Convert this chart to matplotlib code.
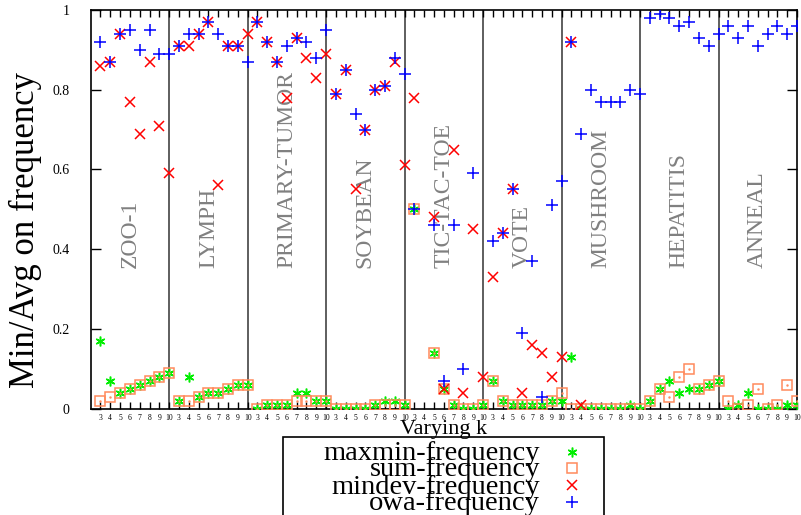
import numpy as np
import matplotlib
matplotlib.use("Agg")
from matplotlib import pyplot as plt
from matplotlib.lines import Line2D
from matplotlib.patches import Rectangle

nan = np.nan
datasets = ["ZOO-1", "LYMPH", "PRIMARY-TUMOR", "SOYBEAN", "TIC-TAC-TOE",
            "VOTE", "MUSHROOM", "HEPATITIS", "ANNEAL"]
ks = [3, 4, 5, 6, 7, 8, 9, 10]

# one row of 8 values (k=3..10) per dataset
maxmin = [0.17, 0.07, 0.04, 0.05, 0.06, 0.07, 0.08, 0.09,
          0.02, 0.08, 0.03, 0.04, 0.04, 0.05, 0.06, 0.06,
          0.00, 0.01, 0.01, 0.01, 0.04, 0.04, 0.02, 0.02,
          0.00, 0.00, 0.00, 0.00, 0.01, 0.02, 0.02, 0.01,
          0.50, nan, 0.14, 0.05, 0.01, 0.00, 0.00, 0.01,
          0.07, 0.02, 0.01, 0.01, 0.01, 0.01, 0.02, 0.02,
          0.13, 0.00, 0.00, 0.00, 0.00, 0.00, 0.01, 0.00,
          0.02, 0.05, 0.07, 0.04, 0.05, 0.05, 0.06, 0.07,
          0.00, 0.01, 0.04, 0.00, 0.00, 0.00, 0.01, 0.01]
sum_f = [0.02, 0.03, 0.04, 0.05, 0.06, 0.07, 0.08, 0.09,
         0.02, 0.02, 0.03, 0.04, 0.04, 0.05, 0.06, 0.06,
         0.00, 0.01, 0.01, 0.01, 0.02, 0.02, 0.02, 0.02,
         0.00, 0.00, 0.00, 0.00, 0.01, 0.01, 0.01, 0.01,
         0.50, nan, 0.14, 0.05, 0.01, 0.00, 0.00, 0.01,
         0.07, 0.02, 0.01, 0.01, 0.01, 0.01, 0.02, 0.04,
         0.00, 0.00, 0.00, 0.00, 0.00, 0.00, 0.00, 0.00,
         0.02, 0.05, 0.03, 0.08, 0.10, 0.05, 0.06, 0.07,
         0.02, 0.00, 0.01, 0.05, 0.00, 0.01, 0.06, 0.02]
mindev = [0.86, 0.87, 0.94, 0.77, 0.69, 0.87, 0.71, 0.59,
          0.91, 0.91, 0.94, 0.97, 0.56, 0.91, 0.91, 0.94,
          0.97, 0.92, 0.87, 0.78, 0.93, 0.88, 0.83, 0.89,
          0.79, 0.85, 0.55, 0.70, 0.80, 0.81, 0.87, 0.61,
          0.78, nan, 0.48, 0.05, 0.65, 0.04, 0.45, 0.08,
          0.33, 0.44, 0.55, 0.04, 0.16, 0.14, 0.08, 0.13,
          0.92, 0.01, nan, nan, nan, nan, nan, nan,
          nan, nan, nan, nan, nan, nan, nan, nan,
          nan, nan, nan, nan, nan, nan, nan, nan]
owa = [0.92, 0.87, 0.94, 0.95, 0.90, 0.95, 0.89, 0.89,
       0.91, 0.94, 0.94, 0.97, 0.94, 0.91, 0.91, 0.87,
       0.97, 0.92, 0.87, 0.91, 0.93, 0.92, 0.88, 0.95,
       0.79, 0.85, 0.74, 0.70, 0.80, 0.81, 0.88, 0.84,
       0.50, nan, 0.46, 0.07, 0.46, 0.10, 0.59, nan,
       0.42, 0.44, 0.55, 0.19, 0.37, 0.03, 0.51, 0.57,
       0.92, 0.69, 0.80, 0.77, 0.77, 0.77, 0.80, 0.79,
       0.98, 0.99, 0.98, 0.96, 0.97, 0.93, 0.91, 0.94,
       0.96, 0.93, 0.96, 0.91, 0.94, 0.96, 0.94, 0.96]

serif = "Liberation Serif"
plt.rcParams["font.family"] = serif

fig = plt.figure(figsize=(8.01, 5.15), dpi=100)
ax = fig.add_axes([0.1132, 0.2064, 0.8818, 0.7742])

x = np.arange(len(datasets) * len(ks))
n = len(ks)

# group separators and names
for g, name in enumerate(datasets):
    if g < len(datasets) - 1:
        ax.axvline(g * n + n - 1, color="#333333", lw=1.1, zorder=1)
    ax.text(g * n + 3, 0.353, name, rotation=90, ha="center", va="bottom",
            color="#808080", fontsize=17, zorder=1)

ax.plot(x, maxmin, ls="none", marker=(6, 2, 0), ms=7, mew=1.1, color="#00ee00", zorder=3)
ax.plot(x, sum_f, ls="none", marker="s", ms=7.5, mfc="none", mew=1.1, color="#ff8a5c", zorder=3)
ax.plot(x, sum_f, ls="none", marker=".", ms=1.5, color="#ff8a5c", zorder=3)
ax.plot(x, mindev, ls="none", marker="x", ms=7, mew=1.1, color="#ff0000", zorder=4)
ax.plot(x, owa, ls="none", marker="+", ms=8, mew=1.1, color="#0000ff", zorder=5)

ax.set_xlim(-1, 71)
ax.set_ylim(0, 1)
ax.set_xticks(x)
ax.set_xticklabels([str(k) for k in ks] * len(datasets), fontsize=5.5)
ax.set_yticks([0, 0.2, 0.4, 0.6, 0.8, 1])
ax.set_yticklabels(["0", "0.2", "0.4", "0.6", "0.8", "1"], fontsize=10)
ax.tick_params(axis="x", direction="in", top=True, length=5, width=1, pad=4)
ax.tick_params(axis="y", direction="in", right=True, length=7, width=1, pad=15)
for s in ax.spines.values():
    s.set_linewidth(1.2)

fig.text(25 / 801, 1 - 230 / 515, "Min/Avg on frequency", rotation=90,
         ha="center", va="center", fontsize=25)
fig.text(444 / 801, 1 - 434 / 515, "Varying k", ha="center", va="baseline", fontsize=16)

# legend box drawn by hand (right-aligned entries, gnuplot style)
fig.patches.append(Rectangle((283 / 801, -0.01), 321 / 801, 1 - 437 / 515 + 0.01,
                             transform=fig.transFigure, fill=False, lw=1.2, ec="black"))
labels = ["maxmin-frequency", "sum-frequency", "mindev-frequency", "owa-frequency"]
styles = [dict(marker=(6, 2, 0), color="#00ee00", ms=7, mew=1.1),
          dict(marker="s", color="#ff8a5c", mfc="none", ms=7.5, mew=1.1),
          dict(marker="x", color="#ff0000", ms=7, mew=1.1),
          dict(marker="+", color="#0000ff", ms=8, mew=1.1)]
rows = [452, 468, 485, 502]
for lab, st, r in zip(labels, styles, rows):
    fig.text(540 / 801, 1 - (r + 2) / 515, lab, ha="right", va="center", fontsize=20.5)
    fig.lines.append(Line2D([572 / 801], [1 - r / 515], transform=fig.transFigure, ls="none", **st))

plt.savefig("out.png", dpi=100)
